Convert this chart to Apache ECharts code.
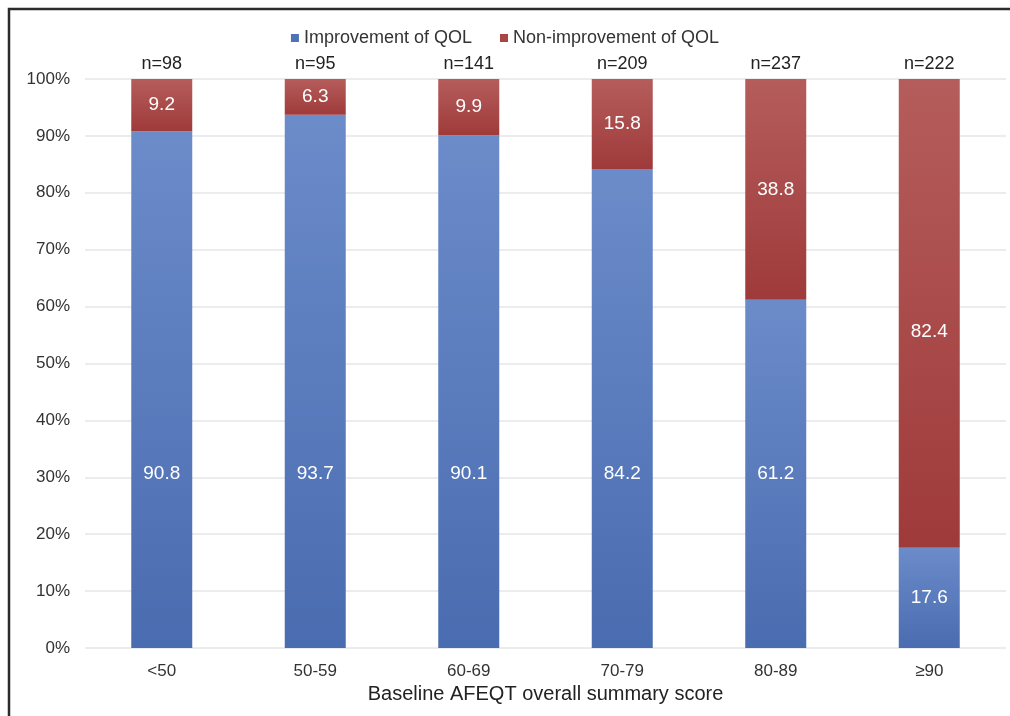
<!DOCTYPE html>
<html>
<head>
<meta charset="utf-8">
<script src="https://cdn.jsdelivr.net/npm/echarts@6/dist/echarts.min.js"></script>
<style>
  html, body { margin: 0; padding: 0; background: #fff; }
  #chart { width: 1010px; height: 716px; }
</style>
</head>
<body>
<div id="chart"></div>
<script>
// Baseline AFEQT score groups and the share of patients in each outcome (%)
const categories = ['<50', '50-59', '60-69', '70-79', '80-89', '≥90'];
const sampleSizes = ['n=98', 'n=95', 'n=141', 'n=209', 'n=237', 'n=222'];
const improvement = [90.8, 93.7, 90.1, 84.2, 61.2, 17.6];
const nonImprovement = [9.2, 6.3, 9.9, 15.8, 38.8, 82.4];
const yTicks = ['0%', '10%', '20%', '30%', '40%', '50%', '60%', '70%', '80%', '90%', '100%'];

const FONT = '"Liberation Sans", Arial, sans-serif';

function grad(top, bottom) {
  return new echarts.graphic.LinearGradient(0, 0, 0, 1, [
    { offset: 0, color: top },
    { offset: 1, color: bottom }
  ]);
}

const blueFill = grad('#6b8bc9', '#4a6cb0');
const redFill = grad('#b55d5c', '#9f3a3a');

const chart = echarts.init(document.getElementById('chart'), null, { renderer: 'canvas' });

chart.setOption({
  backgroundColor: '#ffffff',
  animation: false,
  textStyle: { fontFamily: FONT },
  graphic: [{
    type: 'rect',
    shape: { x: 9, y: 9, width: 1100, height: 800 },
    style: { fill: 'none', stroke: '#2b2b2b', lineWidth: 2.5 },
    silent: true,
    z: 100
  }],
  legend: {
    top: 24,
    left: 'center',
    itemWidth: 8,
    itemHeight: 8,
    itemGap: 28,
    icon: 'rect',
    textStyle: { fontFamily: FONT, fontSize: 18, color: '#333' },
    data: [
      { name: 'Improvement of QOL', itemStyle: { color: '#4f72b4' } },
      { name: 'Non-improvement of QOL', itemStyle: { color: '#a84545' } }
    ]
  },
  grid: { left: 85, right: 4, top: 79, bottom: 68 },
  xAxis: [{
    type: 'category',
    data: categories,
    position: 'bottom',
    axisLine: { show: false },
    axisTick: { show: false },
    axisLabel: { fontFamily: FONT, fontSize: 17, color: '#333', margin: 15 },
    name: 'Baseline AFEQT overall summary score',
    nameLocation: 'middle',
    nameGap: 33,
    nameTextStyle: { fontFamily: FONT, fontSize: 20, color: '#222' }
  }, {
    type: 'category',
    data: sampleSizes,
    position: 'top',
    axisLine: { show: false },
    axisTick: { show: false },
    axisLabel: { fontFamily: FONT, fontSize: 18, color: '#222', margin: 6 }
  }],
  yAxis: {
    type: 'value',
    min: 0,
    max: 100,
    interval: 10,
    axisLine: { show: false },
    axisTick: { show: false },
    axisLabel: {
      fontFamily: FONT, fontSize: 17, color: '#333', margin: 15,
      formatter: v => yTicks[Math.round(v / 10)]
    },
    splitLine: { lineStyle: { color: '#e4e6ea', width: 1.5 } }
  },
  series: [{
    name: 'Improvement of QOL',
    type: 'bar',
    stack: 'total',
    barWidth: 61,
    data: improvement.map(v => {
      const item = { value: v };
      if (v < 30) item.label = { position: 'inside' };
      return item;
    }),
    itemStyle: { color: blueFill },
    label: {
      show: true,
      position: 'insideBottom',
      distance: 165,
      color: '#ffffff',
      fontFamily: FONT,
      fontSize: 19,
      formatter: p => p.value.toFixed(1)
    }
  }, {
    name: 'Non-improvement of QOL',
    type: 'bar',
    stack: 'total',
    barWidth: 61,
    data: nonImprovement.map(v => {
      const item = { value: v };
      if (v > 60) item.label = { offset: [0, 18] };
      return item;
    }),
    itemStyle: { color: redFill },
    label: {
      show: true,
      position: 'inside',
      color: '#ffffff',
      fontFamily: FONT,
      fontSize: 19,
      formatter: p => p.value.toFixed(1)
    }
  }]
});
</script>
</body>
</html>
